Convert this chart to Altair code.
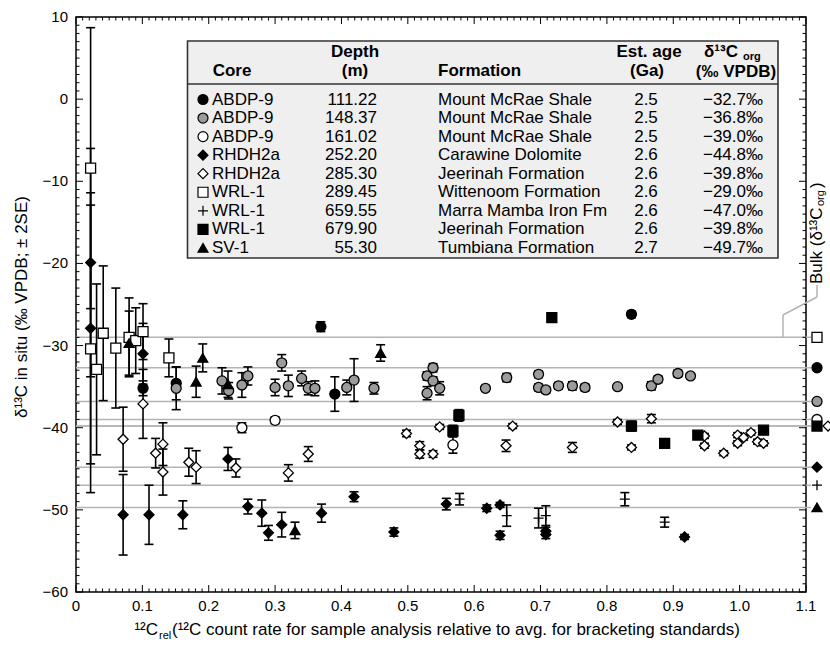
import altair as alt
import pandas as pd

# ---------------- in-situ analyses: x = 12C_rel, y = d13C (permil), e = 2SE ----------------
abdp111_x = [0.101, 0.151, 0.369, 0.390, 0.837]
abdp111_y = [-35.2, -34.6, -27.7, -35.9, -26.2]
abdp111_e = [0.9, 2.0, 0.6, 2.1, 0.4]

abdp148_x = [0.151, 0.220, 0.230, 0.250, 0.259, 0.300, 0.310, 0.320, 0.340, 0.350,
             0.360, 0.408, 0.419, 0.449, 0.529, 0.538, 0.538, 0.529, 0.548, 0.617,
             0.649, 0.697, 0.697, 0.708, 0.727, 0.748, 0.767, 0.816, 0.867, 0.877,
             0.907, 0.926]
abdp148_y = [-35.2, -34.3, -35.5, -34.8, -33.7, -35.1, -32.1, -34.9, -34.0, -35.2,
             -35.2, -35.1, -34.2, -35.2, -33.7, -32.7, -34.3, -35.8, -35.2, -35.2,
             -33.9, -33.5, -35.1, -35.4, -34.9, -34.9, -35.1, -35.0, -34.9, -34.1,
             -33.4, -33.7]
abdp148_e = [2.6, 1.6, 1.0, 1.5, 1.1, 1.0, 1.0, 1.3, 0.9, 0.8,
             0.9, 0.9, 2.6, 0.7, 0.5, 0.5, 0.5, 0.8, 0.8, 0.3,
             0.5, 0.4, 0.4, 0.4, 0.4, 0.5, 0.4, 0.3, 0.5, 0.4,
             0.4, 0.3]

abdp161_x = [0.250, 0.300, 0.568]
abdp161_y = [-40.0, -39.1, -42.1]
abdp161_e = [0.6, 0.4, 1.0]

rhdh252_x = [0.022, 0.022, 0.071, 0.101, 0.110, 0.161, 0.229, 0.259, 0.280, 0.290,
             0.310, 0.370, 0.419, 0.479, 0.558, 0.619, 0.639, 0.639, 0.708, 0.708, 0.917]
rhdh252_y = [-19.9, -27.9, -50.6, -31.0, -50.6, -50.6, -43.8, -49.6, -50.4, -52.8,
             -51.8, -50.4, -48.4, -52.7, -49.3, -49.8, -49.4, -53.1, -52.6, -53.0, -53.3]
rhdh252_e = [13.9, 16.5, 4.9, 3.7, 3.6, 1.7, 1.4, 0.9, 1.6, 0.9,
             1.5, 1.1, 0.6, 0.5, 0.7, 0.4, 0.3, 0.5, 0.5, 0.5, 0.3]

rhdh285_x = [0.071, 0.101, 0.120, 0.131, 0.131, 0.170, 0.181, 0.241, 0.320, 0.350,
             0.498, 0.518, 0.518, 0.538, 0.548, 0.648, 0.658, 0.748, 0.816, 0.837,
             0.867, 0.947, 0.947, 0.976, 0.997, 0.997, 1.006, 1.017, 1.027, 1.036]
rhdh285_y = [-41.4, -37.1, -43.1, -42.0, -45.4, -44.2, -44.8, -44.9, -45.5, -43.2,
             -40.7, -42.2, -43.2, -43.2, -39.9, -42.2, -39.8, -42.4, -39.3, -42.4,
             -38.9, -41.0, -42.2, -43.1, -40.9, -41.9, -41.2, -40.6, -41.7, -41.9]
rhdh285_e = [3.9, 4.2, 1.8, 2.6, 2.8, 1.7, 2.0, 1.1, 1.0, 0.9,
             0.4, 0.5, 0.5, 0.4, 0.3, 0.7, 0.3, 0.6, 0.3, 0.3,
             0.5, 0.3, 0.3, 0.3, 0.3, 0.3, 0.3, 0.3, 0.3, 0.3]

wrl289_x = [0.022, 0.022, 0.031, 0.041, 0.060, 0.080, 0.090, 0.101, 0.140]
wrl289_y = [-8.4, -30.4, -32.9, -28.5, -30.3, -29.0, -29.4, -28.3, -31.5]
wrl289_e = [17.1, 17.5, 10.4, 8.2, 7.3, 4.8, 4.0, 3.4, 2.3]

wrl659_x = [0.578, 0.649, 0.697, 0.708, 0.827, 0.887]
wrl659_y = [-48.7, -50.7, -51.0, -50.7, -48.7, -51.5]
wrl659_e = [0.7, 1.3, 1.2, 1.2, 0.8, 0.6]

wrl679_x = [0.568, 0.577, 0.717, 0.837, 0.887, 0.937, 1.036]
wrl679_y = [-40.4, -38.5, -26.6, -39.8, -41.9, -40.9, -40.3]
wrl679_e = [0.7, 0.7, 0.5, 0.6, 0.3, 0.3, 0.3]

sv1_x = [0.080, 0.181, 0.191, 0.229, 0.330, 0.459]
sv1_y = [-29.7, -34.4, -31.5, -34.7, -52.5, -30.9]
sv1_e = [3.9, 1.9, 1.7, 1.6, 1.0, 1.0]

# ---------------- table / bulk values ----------------
series_keys = ["abdp111", "abdp148", "abdp161", "rhdh252", "rhdh285",
               "wrl289", "wrl659", "wrl679", "sv1"]
core_names = ["ABDP-9", "ABDP-9", "ABDP-9", "RHDH2a", "RHDH2a",
              "WRL-1", "WRL-1", "WRL-1", "SV-1"]
depth_labels = ["111.22", "148.37", "161.02", "252.20", "285.30",
                "289.45", "659.55", "679.90", "55.30"]
formation_names = ["Mount McRae Shale", "Mount McRae Shale", "Mount McRae Shale",
                   "Carawine Dolomite", "Jeerinah Formation", "Wittenoom Formation",
                   "Marra Mamba Iron Fm", "Jeerinah Formation", "Tumbiana Formation"]
age_labels = ["2.5", "2.5", "2.5", "2.6", "2.6", "2.6", "2.6", "2.6", "2.7"]
bulk_d13c = [-32.7, -36.8, -39.0, -44.8, -39.8, -29.0, -47.0, -39.8, -49.7]

x_major = [0, 0.1, 0.2, 0.3, 0.4, 0.5, 0.6, 0.7, 0.8, 0.9, 1.0, 1.1]
x_minor = [i / 100 for i in range(0, 111) if i % 10 != 0]
y_major = [-60, -50, -40, -30, -20, -10, 0, 10]
y_minor = [v for v in range(-60, 11) if v % 10 != 0]

# ---------------- styles ----------------
shape_range = ["circle", "circle", "circle", "diamond", "diamond", "square",
               "M-1,0H1M0,-1V1", "square", "triangle-up"]
fill_range = ["#000000", "#9b9b9b", "#ffffff", "#000000", "#ffffff", "#ffffff",
              "#000000", "#000000", "#000000"]
size_range = [100, 100, 100, 135, 135, 90, 70, 90, 130]

FONT = "Liberation Sans, Arial, Helvetica, sans-serif"
NARROW = "Liberation Sans Narrow, Arial Narrow, Liberation Sans, sans-serif"
W, H = 730, 575

# ---------------- frames ----------------
series_data = [
    ("abdp111", abdp111_x, abdp111_y, abdp111_e),
    ("abdp148", abdp148_x, abdp148_y, abdp148_e),
    ("abdp161", abdp161_x, abdp161_y, abdp161_e),
    ("rhdh252", rhdh252_x, rhdh252_y, rhdh252_e),
    ("rhdh285", rhdh285_x, rhdh285_y, rhdh285_e),
    ("wrl289", wrl289_x, wrl289_y, wrl289_e),
    ("wrl659", wrl659_x, wrl659_y, wrl659_e),
    ("wrl679", wrl679_x, wrl679_y, wrl679_e),
    ("sv1", sv1_x, sv1_y, sv1_e),
]
pts = pd.concat([pd.DataFrame({"s": k, "x": xs, "y": ys, "e": es})
                 for k, xs, ys, es in series_data], ignore_index=True)

tbl = pd.DataFrame({"s": series_keys, "core": core_names, "depth": depth_labels,
                    "form": formation_names, "age": age_labels, "bulk": bulk_d13c,
                    "i": list(range(len(series_keys)))})
tbl["bulk_txt"] = ["\u2212%.1f\u2030" % abs(v) for v in bulk_d13c]

one = pd.DataFrame({"a": [0]})

X = alt.Scale(domain=[0, 1.1], nice=False, zero=False)
Y = alt.Scale(domain=[-60, 10], nice=False, zero=False)
shape_enc = alt.Shape("s:N", scale=alt.Scale(domain=series_keys, range=shape_range), legend=None)
fill_enc = alt.Fill("s:N", scale=alt.Scale(domain=series_keys, range=fill_range), legend=None)
size_enc = alt.Size("s:N", scale=alt.Scale(domain=series_keys, range=size_range), legend=None)


def txt(s, x, y, size=17, bold=False, align="center", font=FONT, angle=None,
        baseline="alphabetic"):
    kw = dict(text=s, align=align, baseline=baseline, fontSize=size, font=font,
              fontWeight="bold" if bold else "normal", color="black")
    if angle is not None:
        kw["angle"] = angle
    return alt.Chart(one).mark_text(**kw).encode(x=alt.value(x), y=alt.value(y))


# bulk reference lines
bulk_lines = alt.Chart(tbl).mark_rule(color="#b4b4b4", strokeWidth=1.5).encode(
    y=alt.Y("bulk:Q", scale=Y, axis=None), x=alt.value(0), x2=alt.value(735))


# inward ticks on all four sides
def xticks(vals, length):
    d = pd.DataFrame({"t": vals})
    b = alt.Chart(d).mark_rule(color="black", strokeWidth=1).encode(
        x=alt.X("t:Q", scale=X, axis=None), y=alt.value(H), y2=alt.value(H - length))
    t = alt.Chart(d).mark_rule(color="black", strokeWidth=1).encode(
        x=alt.X("t:Q", scale=X, axis=None), y=alt.value(0), y2=alt.value(length))
    return [b, t]


def yticks(vals, length):
    d = pd.DataFrame({"t": vals})
    l = alt.Chart(d).mark_rule(color="black", strokeWidth=1).encode(
        y=alt.Y("t:Q", scale=Y, axis=None), x=alt.value(0), x2=alt.value(length))
    r = alt.Chart(d).mark_rule(color="black", strokeWidth=1).encode(
        y=alt.Y("t:Q", scale=Y, axis=None), x=alt.value(W), x2=alt.value(W - length))
    return [l, r]


ticks = xticks(x_major, 7) + xticks(x_minor, 3.5) + yticks(y_major, 7) + yticks(y_minor, 3.5)

# tick labels (drawn through the scales)
xlab = alt.Chart(pd.DataFrame({"t": x_major})).transform_calculate(
    lab="datum.t == 0 ? '0' : format(datum.t, '.1f')").mark_text(
    baseline="top", fontSize=15, font=NARROW, color="black").encode(
    x=alt.X("t:Q", scale=X, axis=None), y=alt.value(H + 7), text="lab:N")
ylab = alt.Chart(pd.DataFrame({"t": y_major})).transform_calculate(
    lab="datum.t < 0 ? '\u2212' + abs(datum.t) : '' + datum.t").mark_text(
    baseline="middle", align="right", fontSize=15, font=NARROW, color="black").encode(
    y=alt.Y("t:Q", scale=Y, axis=None), x=alt.value(-8), text="lab:N")

base = alt.Chart(pts).transform_calculate(lo="datum.y - datum.e", hi="datum.y + datum.e")
err_rule = base.mark_rule(color="black", strokeWidth=1.6).encode(
    x=alt.X("x:Q", scale=X, axis=None),
    y=alt.Y("lo:Q", scale=Y, axis=None), y2="hi:Q")
cap_lo = base.mark_tick(orient="horizontal", size=9, thickness=1.6, color="black",
                        opacity=1).encode(
    x=alt.X("x:Q", scale=X, axis=None), y=alt.Y("lo:Q", scale=Y, axis=None))
cap_hi = base.mark_tick(orient="horizontal", size=9, thickness=1.6, color="black",
                        opacity=1).encode(
    x=alt.X("x:Q", scale=X, axis=None), y=alt.Y("hi:Q", scale=Y, axis=None))
points = alt.Chart(pts).mark_point(filled=True, stroke="black", strokeWidth=1.3,
                                   opacity=1).encode(
    x=alt.X("x:Q", scale=X, axis=None), y=alt.Y("y:Q", scale=Y, axis=None),
    shape=shape_enc, fill=fill_enc, size=size_enc)

# ---------------- table ----------------
box = alt.Chart(one).mark_rect(fill="#efefef", stroke="#333333", strokeWidth=1.6).encode(
    x=alt.value(111.5), x2=alt.value(702), y=alt.value(24), y2=alt.value(241))
sep = alt.Chart(one).mark_rule(color="#333333", strokeWidth=1.6).encode(
    x=alt.value(111.5), x2=alt.value(702), y=alt.value(67))
headers = [
    txt("Core", 156, 59, bold=True),
    txt("Depth", 279, 40, bold=True),
    txt("(m)", 279, 59, bold=True),
    txt("Formation", 362, 59, bold=True, align="left"),
    txt("Est. age", 573, 40, bold=True),
    txt("(Ga)", 571, 59, bold=True),
    txt("\u03b4\u00b9\u00b3C", 628, 40, bold=True, align="left"),
    txt("org", 667, 43, size=11, bold=True, align="left"),
    txt("(\u2030 VPDB)", 660, 60, bold=True),
]

rows = alt.Chart(tbl).transform_calculate(
    ty="10 - (82.5 + 18.55 * datum.i) * 70 / 575")
row_y = alt.Y("ty:Q", scale=Y, axis=None)
row_sym = rows.mark_point(filled=True, stroke="black", strokeWidth=1.2, opacity=1).encode(
    x=alt.value(127), y=row_y, shape=shape_enc, fill=fill_enc, size=size_enc)


def col(field, x, align):
    return rows.mark_text(align=align, baseline="middle", fontSize=17, font=FONT,
                          color="black").encode(x=alt.value(x), y=row_y,
                                                text=alt.Text(field + ":N"))


row_text = [col("core", 136, "left"), col("depth", 301, "right"),
            col("form", 362, "left"), col("age", 570, "center"),
            col("bulk_txt", 687, "right")]

# ---------------- bulk markers at right ----------------
bulk_main = alt.Chart(tbl).transform_filter("datum.s != 'rhdh285'").mark_point(
    filled=True, stroke="black", strokeWidth=1.3, opacity=1).encode(
    x=alt.value(741), y=alt.Y("bulk:Q", scale=Y, axis=None),
    shape=shape_enc, fill=fill_enc, size=size_enc)
bulk_side = alt.Chart(tbl).transform_filter("datum.s == 'rhdh285'").mark_point(
    filled=True, stroke="black", strokeWidth=1.3, opacity=1).encode(
    x=alt.value(752), y=alt.Y("bulk:Q", scale=Y, axis=None),
    shape=shape_enc, fill=fill_enc, size=size_enc)
bracket = [
    alt.Chart(one).mark_rule(color="#b4b4b4", strokeWidth=1.5).encode(
        x=alt.value(707), y=alt.value(320), y2=alt.value(298)),
    alt.Chart(one).mark_rule(color="#b4b4b4", strokeWidth=1.5).encode(
        x=alt.value(707), x2=alt.value(741), y=alt.value(298), y2=alt.value(280)),
    alt.Chart(one).mark_rule(color="#b4b4b4", strokeWidth=1.5).encode(
        x=alt.value(741), y=alt.value(280), y2=alt.value(268)),
]
bulk_label = [
    txt("Bulk (\u03b4\u00b9\u00b3C", 741, 267, size=17, angle=270,
        align="left", baseline="middle"),
    txt("org", 745, 189, size=11, angle=270, align="left", baseline="middle"),
    txt(")", 741, 171, size=17, angle=270, align="left", baseline="middle"),
]

# ---------------- axis titles ----------------
titles = [
    txt("\u03b4\u00b9\u00b3C in situ (\u2030 VPDB; \u00b1 2SE)", -54, 290, size=17,
        angle=270, baseline="middle"),
    txt("\u00b9\u00b2C", 82, 618, size=17, font=NARROW, align="right"),
    txt("rel", 83, 622, size=11, font=NARROW, align="left"),
    txt("(\u00b9\u00b2C count rate for sample analysis relative to avg. for bracketing standards)",
        96, 618, size=17, font=NARROW, align="left"),
]

chart = alt.layer(
    bulk_lines, *ticks, xlab, ylab, err_rule, cap_lo, cap_hi, points,
    box, sep, *headers, row_sym, *row_text,
    bulk_main, bulk_side, *bracket, *bulk_label, *titles,
).properties(
    width=W, height=H,
    padding={"left": 76, "top": 17, "right": 24, "bottom": 55},
    autosize=alt.AutoSizeParams(type="none"),
    background="white",
).configure_view(stroke="black", strokeWidth=1.5)

chart.save("out.html", embed_options={"renderer": "svg", "actions": False})
